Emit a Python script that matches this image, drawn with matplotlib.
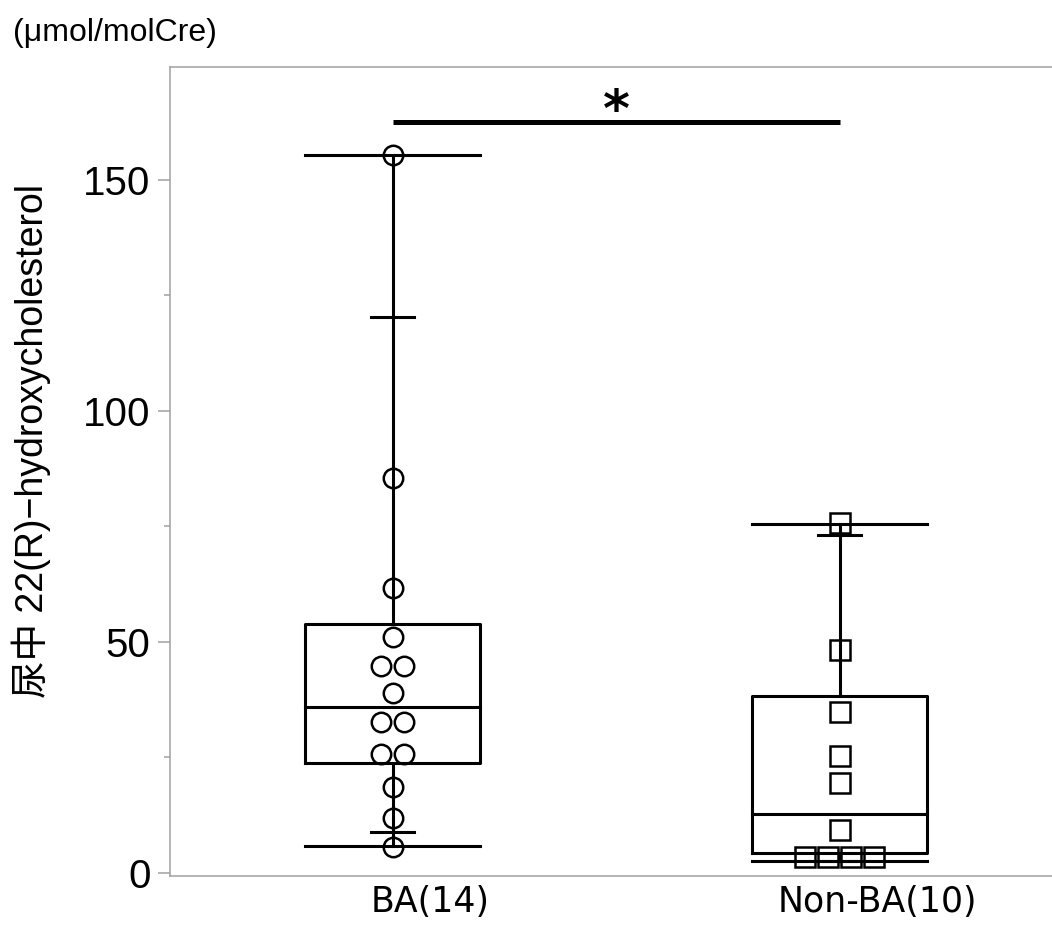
import numpy as np
import matplotlib.pyplot as plt
from matplotlib.transforms import ScaledTranslation, blended_transform_factory

# groups and raw measurements (umol/molCre)
groups = ["BA(14)", "Non-BA(10)"]
ba_values = [155.4, 85.5, 61.7, 51.1, 44.8, 44.8, 39.0, 32.7, 32.7,
             25.8, 25.8, 18.6, 11.9, 5.7]
non_ba_values = [75.7, 48.3, 34.9, 25.4, 19.5, 9.2, 3.5, 3.5, 3.5, 3.5]

# quantile summary per group: min, 10%, 25%, median, 75%, 90%, max
q_min = [5.8, 2.6]
q10 = [8.9, 2.7]
q25 = [23.9, 4.3]
q50 = [36.0, 12.8]
q75 = [53.9, 38.3]
q90 = [120.3, 73.2]
q_max = [155.4, 75.5]

sig_level = 162.5
sig_text = "*"

markers = ["o", "s"]
BOX_W = 0.39
TICK_W = 0.095
LW = 2.2
GRAY = "#a0a0a0"


def dodge(values, step, tol):
    """spread overlapping points side by side"""
    values = np.asarray(values)
    order = np.argsort(values)
    vals = values[order]
    offsets = np.zeros(len(vals))
    start = 0
    for i in range(1, len(vals) + 1):
        if i == len(vals) or vals[i] - vals[i - 1] > tol:
            k = i - start
            offsets[order[start:i]] = (np.arange(k) - (k - 1) / 2) * step
            start = i
    return offsets


def draw_group(ax, x, values, i):
    """quantile box with min/max lines and the raw points"""
    half = BOX_W / 2
    # whisker from min to max
    ax.plot([x, x], [q_min[i], q25[i]], color="black", lw=LW, zorder=2)
    ax.plot([x, x], [q75[i], q_max[i]], color="black", lw=LW, zorder=2)
    # box
    ax.plot([x - half, x + half, x + half, x - half, x - half],
            [q25[i], q25[i], q75[i], q75[i], q25[i]],
            color="black", lw=LW, zorder=2)
    ax.plot([x - half, x + half], [q50[i], q50[i]], color="black", lw=LW, zorder=2)
    # min / max lines
    ax.plot([x - half, x + half], [q_min[i], q_min[i]], color="black", lw=LW, zorder=2)
    ax.plot([x - half, x + half], [q_max[i], q_max[i]], color="black", lw=LW, zorder=2)
    # 10% / 90% ticks
    for q in (q10[i], q90[i]):
        ax.plot([x - TICK_W / 2, x + TICK_W / 2], [q, q], color="black", lw=LW, zorder=2)
    # points
    offs = dodge(values, 0.0515, 2.5)
    ax.plot(x + offs, values, linestyle="none", marker=markers[i], ms=14,
            mfc="none", mec="black", mew=1.8, zorder=3)


def main():
    fig = plt.figure(figsize=(10.52, 9.25), dpi=100)
    ax = fig.add_axes([170 / 1052, 1 - 876 / 925, 1 - 170 / 1052, (876 - 67) / 925])

    xs = np.arange(len(groups))
    draw_group(ax, xs[0], ba_values, 0)
    draw_group(ax, xs[1], non_ba_values, 1)

    # significance bar
    ax.plot([xs[0], xs[1]], [sig_level, sig_level], color="black", lw=3.6,
            solid_capstyle="butt")
    ax.text((xs[0] + xs[1]) / 2, sig_level - 0.9, sig_text, ha="center",
            va="baseline", fontsize=37, fontweight="bold", family="DejaVu Sans")

    ax.set_xlim(-0.498, 1.475)
    ax.set_ylim(-0.65, 174.45)
    ax.set_yticks([0, 50, 100, 150])
    ax.set_yticks([25, 75, 125], minor=True)
    ax.set_xticks(xs)
    ax.tick_params(axis="x", length=0, labelbottom=False)
    for lab in ax.get_yticklabels():
        lab.set_family("Liberation Sans")
        lab.set_fontsize(29)

    # category labels, sitting a little right of the group centre
    trans = blended_transform_factory(ax.transData, ax.transAxes)
    trans = trans + ScaledTranslation(0.38, -0.09, fig.dpi_scale_trans)
    for x, name in zip(xs, groups):
        ax.text(x, 0, name, transform=trans, ha="center", va="top",
                fontsize=25, family="DejaVu Sans")

    ax.tick_params(axis="y", which="major", length=9, width=1.1, color=GRAY, pad=5)
    ax.tick_params(axis="y", which="minor", length=4.5, width=1.1, color=GRAY)
    for side in ("left", "bottom", "top"):
        ax.spines[side].set_color(GRAY)
        ax.spines[side].set_linewidth(1.1)
    ax.spines["right"].set_visible(False)

    fig.text(31 / 1052, 1 - 441 / 925, "尿中 22(R)\u2212hydroxycholesterol",
             rotation=90, ha="center", va="center", fontsize=27,
             family=["Liberation Sans", "Noto Sans CJK JP"])
    fig.text(13 / 1052, 1 - 33 / 925, "(\u03bcmol/molCre)", ha="left", va="center",
             fontsize=23, family="Liberation Sans")

    fig.savefig("out.png", dpi=100)


if __name__ == "__main__":
    main()
